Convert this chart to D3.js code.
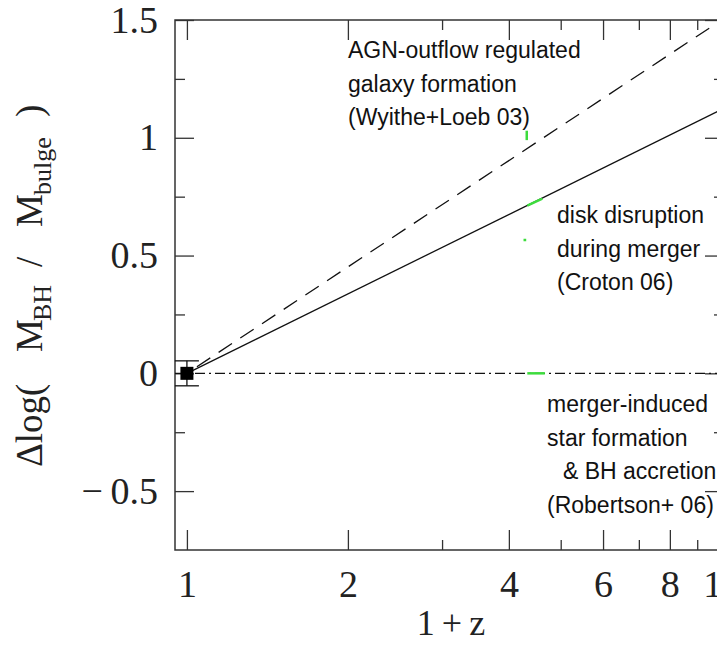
<!DOCTYPE html>
<html>
<head>
<meta charset="utf-8">
<script src="https://cdn.jsdelivr.net/npm/d3@7"></script>
<style>
  body { margin: 0; background: #fff; }
  .tick text { font-family: "Liberation Serif", serif; font-size: 38px; fill: #222; }
  .note { font-family: "Liberation Sans", Arial, sans-serif; font-size: 23px; fill: #111; }
</style>
</head>
<body>
<svg width="717" height="645"></svg>
<script>
// Axis ticks
const zMajor = [1, 2, 4, 6, 8, 10];
const zMinor = [3, 5, 7, 9];
const dlogMajor = [-0.5, 0, 0.5, 1, 1.5];
const dlogMinor = [-0.25, 0.25, 0.75, 1.25];

// Model lines, read at 1+z = 1 and 1+z = 10
const modelZ = [1, 10];
const wyitheLoeb = [0, 1.5];   // dashed
const croton = [0, 1.12];      // solid
const robertson = [0, 0];      // dash-dot

// Local data point with error bar
const obsZ = [1];
const obsDlog = [0];
const obsErr = [0.053];

// Small green marks seen on the figure
const greenMarks = [
    { z: [4.33, 4.67], v: [0, 0] },
    { z: [4.33, 4.62], v: [0.712, 0.742] },
    { z: [4.26, 4.31], v: [0.566, 0.566] },
    { z: [4.32, 4.32], v: [0.99, 1.03] }
];

// Annotation text blocks
const notes = [
    { lines: ["AGN-outflow regulated", "galaxy formation", "(Wyithe+Loeb 03)"], x: 348, y: 58, dx: [0, 0, 0] },
    { lines: ["disk disruption", "during merger", "(Croton 06)"], x: 557, y: 223, dx: [0, 0, 0] },
    { lines: ["merger-induced", "star formation", "& BH accretion", "(Robertson+ 06)"], x: 547, y: 412, dx: [0, 0, 16, 0] }
];

const svg = d3.select("svg");
const plotLeft = 175, plotRight = 724, plotTop = 20, plotBottom = 550;

const x = d3.scaleLog().domain([0.95, 10.1]).range([plotLeft, plotRight]);
const y = d3.scaleLinear().domain([-0.75, 1.5]).range([plotBottom, plotTop]);

const fmtY = d => d < 0 ? "\u2212\u2009" + Math.abs(d) : String(d);

// Draw one axis and strip its domain path
function drawAxis(axis, tx, ty) {
    const g = svg.append("g")
        .attr("transform", `translate(${tx},${ty})`)
        .call(axis);
    g.select(".domain").remove();
    g.selectAll(".tick line").attr("stroke", "#333").attr("stroke-width", 1.3);
    return g;
}

// Bottom axis
drawAxis(d3.axisBottom(x).tickValues(zMajor).tickSize(-20).tickPadding(20).tickFormat(d3.format("d")), 0, plotBottom);
drawAxis(d3.axisBottom(x).tickValues(zMinor).tickSize(-10).tickFormat(""), 0, plotBottom);
// Top axis
drawAxis(d3.axisTop(x).tickValues(zMajor).tickSize(-20).tickFormat(""), 0, plotTop);
drawAxis(d3.axisTop(x).tickValues(zMinor).tickSize(-10).tickFormat(""), 0, plotTop);
// Left axis
drawAxis(d3.axisLeft(y).tickValues(dlogMajor).tickSize(-19).tickPadding(17).tickFormat(fmtY), plotLeft, 0);
drawAxis(d3.axisLeft(y).tickValues(dlogMinor).tickSize(-10).tickFormat(""), plotLeft, 0);
// Right axis
drawAxis(d3.axisRight(y).tickValues(dlogMajor).tickSize(-19).tickFormat(""), plotRight, 0);
drawAxis(d3.axisRight(y).tickValues(dlogMinor).tickSize(-10).tickFormat(""), plotRight, 0);

// Frame
svg.append("rect")
    .attr("x", plotLeft).attr("y", plotTop)
    .attr("width", plotRight - plotLeft).attr("height", plotBottom - plotTop)
    .attr("fill", "none")
    .attr("stroke", "#333")
    .attr("stroke-width", 1.5);

// Model lines
const line = d3.line().x(d => x(d[0])).y(d => y(d[1]));

svg.append("path")
    .attr("d", line(d3.zip(x.domain(), robertson)))
    .attr("fill", "none").attr("stroke", "#111").attr("stroke-width", 1.3)
    .attr("stroke-dasharray", "10,4,2,4");

svg.append("path")
    .attr("d", line(d3.zip(modelZ, croton)))
    .attr("fill", "none").attr("stroke", "#111").attr("stroke-width", 1.3);

svg.append("path")
    .attr("d", line(d3.zip(modelZ, wyitheLoeb)))
    .attr("fill", "none").attr("stroke", "#111").attr("stroke-width", 1.3)
    .attr("stroke-dasharray", "16,10")
    .attr("stroke-dashoffset", -12);

// Green marks
svg.selectAll(".green")
    .data(greenMarks)
    .enter().append("path")
    .attr("class", "green")
    .attr("d", d => line(d3.zip(d.z, d.v)))
    .attr("fill", "none")
    .attr("stroke", "#3ddc3d")
    .attr("stroke-width", 2.5);

// Data point with error bar
const obs = d3.zip(obsZ, obsDlog, obsErr);
const capHalf = 12;
const pt = svg.selectAll(".obs")
    .data(obs)
    .enter().append("g")
    .attr("class", "obs");

pt.append("line")
    .attr("x1", d => x(d[0])).attr("x2", d => x(d[0]))
    .attr("y1", d => y(d[1] - d[2])).attr("y2", d => y(d[1] + d[2]))
    .attr("stroke", "#111").attr("stroke-width", 1.3);

pt.selectAll(".cap")
    .data(d => [[d[0], d[1] - d[2]], [d[0], d[1] + d[2]]])
    .enter().append("line")
    .attr("x1", d => x(d[0]) - capHalf).attr("x2", d => x(d[0]) + capHalf)
    .attr("y1", d => y(d[1])).attr("y2", d => y(d[1]))
    .attr("stroke", "#111").attr("stroke-width", 1.3);

pt.append("rect")
    .attr("x", d => x(d[0]) - 6.5).attr("y", d => y(d[1]) - 6.5)
    .attr("width", 13).attr("height", 13)
    .attr("fill", "#000");

// Annotations
notes.forEach(n => {
    const t = svg.append("text").attr("class", "note");
    n.lines.forEach((s, i) => {
        t.append("tspan")
            .attr("x", n.x + n.dx[i])
            .attr("y", n.y + i * 33.7)
            .text(s);
    });
});

// X label
svg.append("text")
    .attr("x", 451).attr("y", 635)
    .attr("text-anchor", "middle")
    .style("font-family", "Liberation Serif, serif")
    .style("font-size", "36px")
    .attr("fill", "#222")
    .text("1\u2009+\u2009z");

// Y label (rotated), pieces placed along the text direction
const ylab = svg.append("text")
    .attr("transform", "translate(42,467) rotate(-90)")
    .style("font-family", "Liberation Serif, serif")
    .style("font-size", "37px")
    .attr("fill", "#222");

const ypieces = [
    { s: "\u0394log(", at: 0, sub: false },
    { s: "M", at: 115, sub: false },
    { s: "BH", at: 146, sub: true },
    { s: "/", at: 200, sub: false },
    { s: "M", at: 240, sub: false },
    { s: "bulge", at: 272, sub: true },
    { s: ")", at: 350, sub: false }
];

ypieces.forEach(p => {
    ylab.append("tspan")
        .attr("x", p.at)
        .attr("y", p.sub ? 9 : 0)
        .style("font-size", p.sub ? "26px" : null)
        .text(p.s);
});
</script>
</body>
</html>
